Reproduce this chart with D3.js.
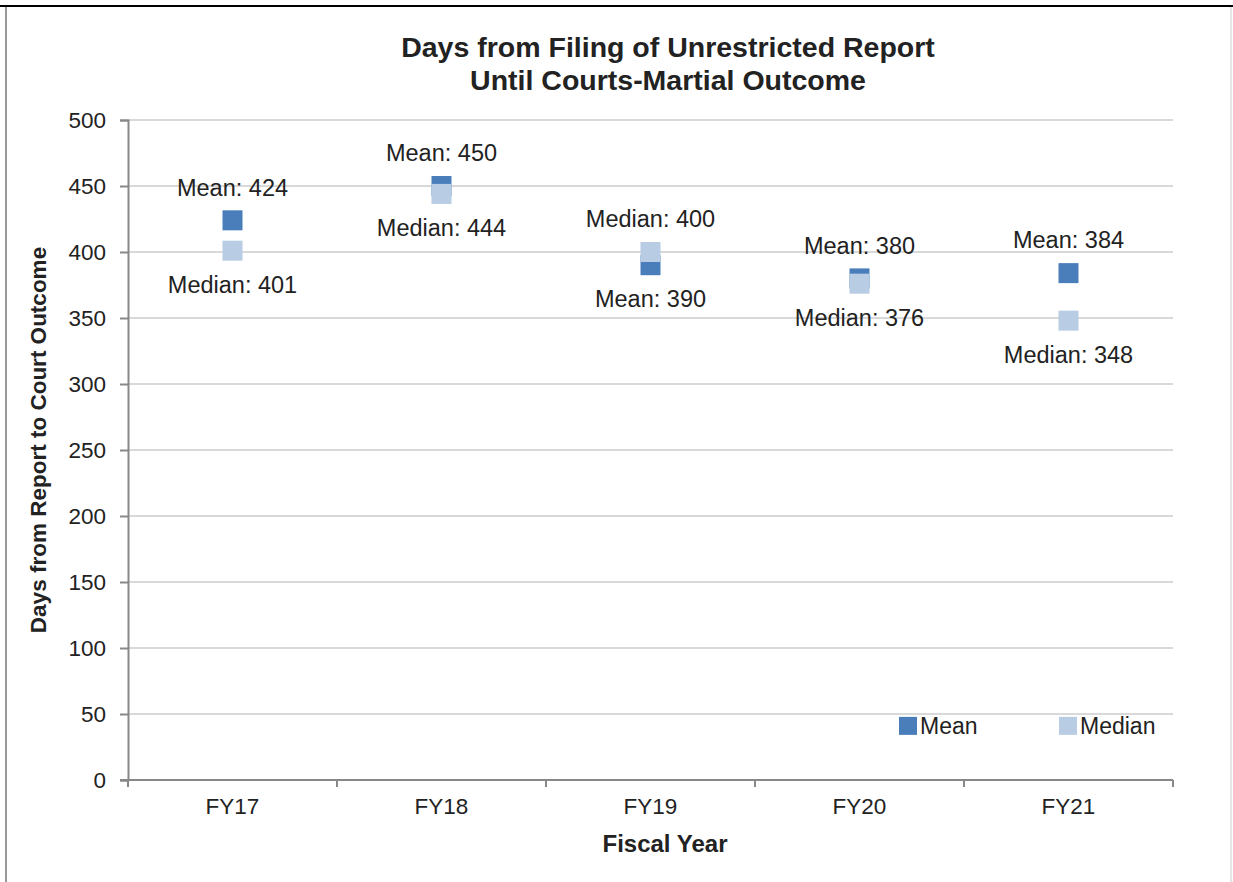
<!DOCTYPE html>
<html lang="en">
<head>
<meta charset="utf-8">
<title>Days from Filing of Unrestricted Report Until Courts-Martial Outcome</title>
<script src="https://cdn.jsdelivr.net/npm/d3@7"></script>
<style>
  body { margin: 0; background: #fff; }
  text { font-family: "Liberation Sans", Arial, sans-serif; fill: #222; }
</style>
</head>
<body>
<div id="chart"></div>
<script>
  // data
  const years = ['FY17', 'FY18', 'FY19', 'FY20', 'FY21'];
  const meanValues = [424, 450, 390, 380, 384];
  const medianValues = [401, 444, 400, 376, 348];
  // where each data label sits relative to its marker
  const meanLabelSide = ['above', 'above', 'below', 'above', 'above'];
  const medianLabelSide = ['below', 'below', 'above', 'below', 'below'];
  const yTicks = [0, 50, 100, 150, 200, 250, 300, 350, 400, 450, 500];

  const width = 1233, height = 882;
  const margin = { top: 120, right: 60, bottom: 102, left: 128 };
  const chartWidth = width - margin.left - margin.right;
  const chartHeight = height - margin.top - margin.bottom;
  const meanColor = '#4a7ebb', medianColor = '#b8cce4';
  const markerSize = 20;
  const font = '"Liberation Sans", Arial, sans-serif';

  const svg = d3.select('#chart').append('svg').attr('width', width).attr('height', height);

  // frame around the picture
  svg.append('line').attr('x1', 0).attr('x2', width).attr('y1', 6).attr('y2', 6)
    .attr('stroke', '#000').attr('stroke-width', 2);
  svg.append('line').attr('x1', 6).attr('x2', 6).attr('y1', 7).attr('y2', height)
    .attr('stroke', '#999').attr('stroke-width', 2);
  svg.append('line').attr('x1', 1231).attr('x2', 1231).attr('y1', 7).attr('y2', height)
    .attr('stroke', '#ddd').attr('stroke-width', 1.5);

  const x = d3.scaleBand().domain(years).range([0, chartWidth]);
  const y = d3.scaleLinear().domain([0, 500]).range([chartHeight, 0]);

  const g = svg.append('g').attr('transform', `translate(${margin.left},${margin.top})`);

  // gridlines
  g.append('g').selectAll('line').data(yTicks.filter(d => d > 0)).join('line')
    .attr('x1', 0).attr('x2', chartWidth)
    .attr('y1', d => y(d)).attr('y2', d => y(d))
    .attr('stroke', '#d9d9d9').attr('stroke-width', 2);

  // y axis
  const yAxis = g.append('g').call(d3.axisLeft(y).tickValues(yTicks).tickSize(8).tickPadding(14));
  yAxis.select('.domain').attr('stroke', '#888').attr('stroke-width', 2);
  yAxis.selectAll('.tick line').attr('stroke', '#888').attr('stroke-width', 2);
  yAxis.selectAll('.tick text').attr('font-size', 22.5).attr('fill', '#222').style('font-family', font);

  // x axis, ticks sit between the categories
  const xAxis = g.append('g').attr('transform', `translate(0,${chartHeight})`)
    .call(d3.axisBottom(x).tickSize(0).tickPadding(18));
  xAxis.select('.domain').remove();
  xAxis.selectAll('.tick text').attr('font-size', 22.5).attr('fill', '#222').style('font-family', font);
  g.append('line').attr('x1', -8).attr('x2', chartWidth).attr('y1', chartHeight).attr('y2', chartHeight)
    .attr('stroke', '#888').attr('stroke-width', 2);
  const bounds = years.map(d => x(d)).concat([chartWidth]);
  g.append('g').selectAll('line').data(bounds).join('line')
    .attr('x1', d => d).attr('x2', d => d)
    .attr('y1', chartHeight).attr('y2', chartHeight + 7)
    .attr('stroke', '#888').attr('stroke-width', 2);

  const cx = d => x(d) + x.bandwidth() / 2;

  function drawSeries(values, color) {
    g.append('g').selectAll('rect').data(years).join('rect')
      .attr('x', d => cx(d) - markerSize / 2)
      .attr('y', (d, i) => y(values[i]) - markerSize / 2)
      .attr('width', markerSize).attr('height', markerSize)
      .attr('fill', color);
  }
  function drawLabels(values, sides, name) {
    g.append('g').selectAll('text').data(years).join('text')
      .attr('x', d => cx(d))
      .attr('y', (d, i) => y(values[i]) + (sides[i] === 'above' ? -33 : 34))
      .attr('dy', '0.35em')
      .attr('text-anchor', 'middle')
      .attr('font-size', 23.5)
      .text((d, i) => `${name}: ${values[i]}`);
  }
  drawSeries(meanValues, meanColor);
  drawSeries(medianValues, medianColor);
  drawLabels(meanValues, meanLabelSide, 'Mean');
  drawLabels(medianValues, medianLabelSide, 'Median');

  // legend
  const legend = g.append('g').attr('transform', `translate(0,${y(41)})`);
  [['Mean', meanColor, 771], ['Median', medianColor, 931]].forEach(([label, color, lx]) => {
    legend.append('rect').attr('x', lx).attr('y', -9).attr('width', 18).attr('height', 18).attr('fill', color);
    legend.append('text').attr('x', lx + 21).attr('y', 0).attr('dy', '0.35em')
      .attr('font-size', 23).text(label);
  });

  // titles
  const title = svg.append('text').attr('text-anchor', 'middle').attr('font-weight', 'bold')
    .attr('font-size', 28.5).attr('x', 668);
  title.append('tspan').attr('x', 668).attr('y', 57).text('Days from Filing of Unrestricted Report');
  title.append('tspan').attr('x', 668).attr('y', 90).text('Until Courts-Martial Outcome');

  svg.append('text').attr('text-anchor', 'middle').attr('font-weight', 'bold').attr('font-size', 22.5)
    .attr('transform', `translate(46,${margin.top + chartHeight / 2 - 10}) rotate(-90)`)
    .text('Days from Report to Court Outcome');

  svg.append('text').attr('text-anchor', 'middle').attr('font-weight', 'bold').attr('font-size', 24)
    .attr('x', 665).attr('y', 852).text('Fiscal Year');
</script>
</body>
</html>
